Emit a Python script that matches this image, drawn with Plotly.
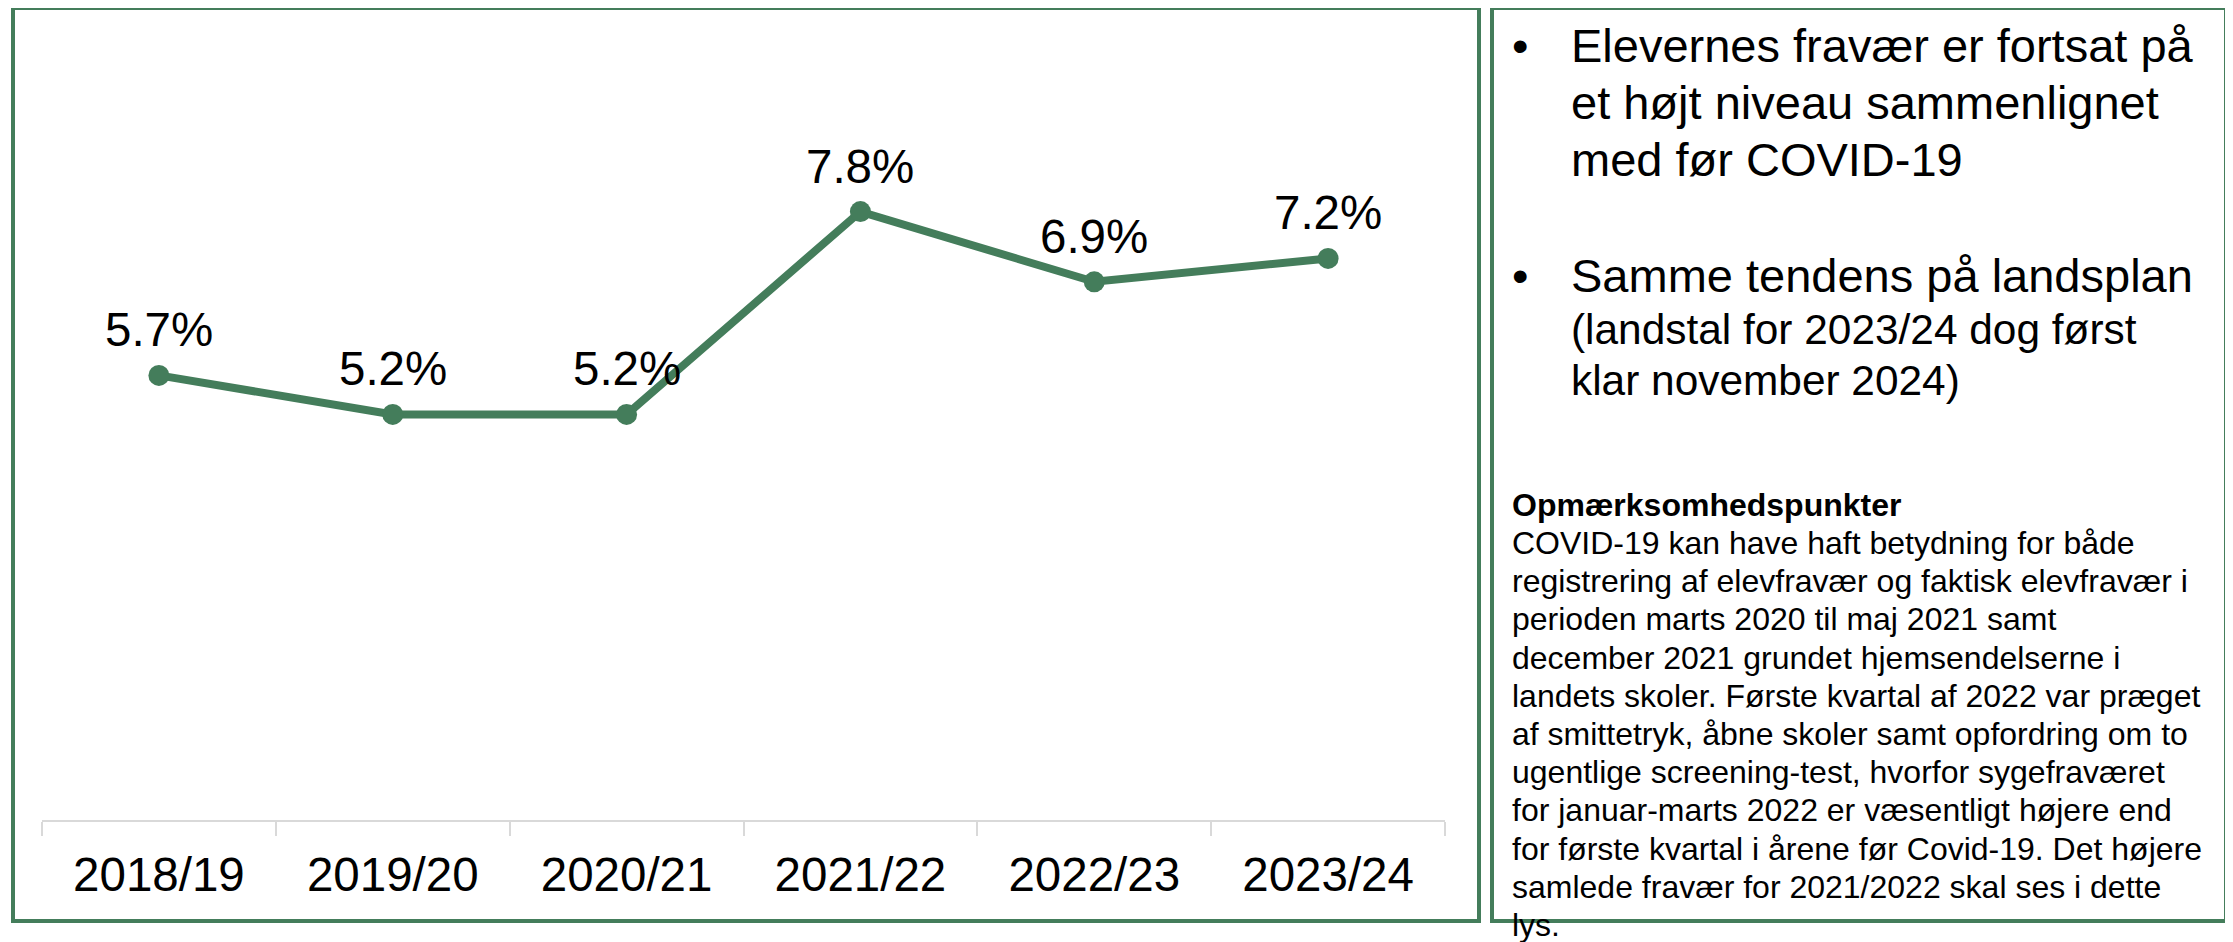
import plotly.graph_objects as go

# ---- data ----
categories = ["2018/19", "2019/20", "2020/21", "2021/22", "2022/23", "2023/24"]
absence_pct = [5.7, 5.2, 5.2, 7.8, 6.9, 7.2]

bullet_lines = [
    ("•", "Elevernes fravær er fortsat på"),
    ("", "et højt niveau sammenlignet"),
    ("", "med før COVID-19"),
    ("•", "Samme tendens på landsplan"),
    ("", "(landstal for 2023/24 dog først"),
    ("", "klar november 2024)"),
]
note_title = "Opmærksomhedspunkter"
note_lines = [
    "COVID-19 kan have haft betydning for både",
    "registrering af elevfravær og faktisk elevfravær i",
    "perioden marts 2020 til maj 2021 samt",
    "december 2021 grundet hjemsendelserne i",
    "landets skoler. Første kvartal af 2022 var præget",
    "af smittetryk, åbne skoler samt opfordring om to",
    "ugentlige screening-test, hvorfor sygefraværet",
    "for januar-marts 2022 er væsentligt højere end",
    "for første kvartal i årene før Covid-19. Det højere",
    "samlede fravær for 2021/2022 skal ses i dette",
    "lys.",
]

# ---- styling ----
W, H = 2233, 942
OFF = 8  # default page body margin
GREEN = "#447D5B"
FONT = "Liberation Sans, Arial, sans-serif"
BIG = 47.5


def fx(px):
    return (px - OFF) / W


def fy(py):
    return 1 - (py - OFF) / H


fig = go.Figure()
fig.add_trace(go.Scatter(
    x=categories, y=absence_pct, mode="lines+markers",
    line=dict(color=GREEN, width=8),
    marker=dict(color=GREEN, size=21),
    hoverinfo="skip", showlegend=False,
))

annotations = []
# data labels
for c, v in zip(categories, absence_pct):
    annotations.append(dict(
        x=c, y=v, xref="x", yref="y", text=f"{v:.1f}%", showarrow=False,
        xanchor="center", yanchor="bottom", yshift=17,
        font=dict(family=FONT, size=BIG, color="black"),
    ))

# right panel bullet text
bullet_base = [63, 120, 177, 293, 345, 396]
bullet_size = [47, 47, 47, 47, 42.4, 42.4]
for (b, t), base, fs in zip(bullet_lines, bullet_base, bullet_size):
    if b:
        annotations.append(dict(
            x=fx(1510), y=fy(base + 0.212 * fs + 1), xref="paper", yref="paper",
            text=b, showarrow=False, xanchor="left", yanchor="bottom",
            font=dict(family=FONT, size=fs, color="black"),
        ))
    annotations.append(dict(
        x=fx(1569), y=fy(base + 0.212 * fs + 1), xref="paper", yref="paper",
        text=t, showarrow=False, xanchor="left", yanchor="bottom",
        font=dict(family=FONT, size=fs, color="black"),
    ))

NOTE_FS = 32
all_notes = [f"<b>{note_title}</b>"] + note_lines
for i, t in enumerate(all_notes):
    base = 517 + 38.2 * i
    annotations.append(dict(
        x=fx(1510), y=fy(base + 0.212 * NOTE_FS + 1), xref="paper", yref="paper",
        text=t, showarrow=False, xanchor="left", yanchor="bottom",
        font=dict(family=FONT, size=NOTE_FS, color="black"),
    ))

shapes = [
    dict(type="rect", xref="paper", yref="paper",
         x0=fx(13), x1=fx(1479), y0=fy(921), y1=fy(8),
         line=dict(color=GREEN, width=4), fillcolor="rgba(0,0,0,0)", layer="below"),
    dict(type="rect", xref="paper", yref="paper",
         x0=fx(1492), x1=fx(2226), y0=fy(921), y1=fy(8),
         line=dict(color=GREEN, width=4), fillcolor="rgba(0,0,0,0)", layer="below"),
]

fig.update_layout(
    width=W, height=H,
    margin=dict(l=0, r=0, t=0, b=0),
    paper_bgcolor="white", plot_bgcolor="white",
    font=dict(family=FONT, color="black"),
    showlegend=False,
    annotations=annotations,
    shapes=shapes,
    xaxis=dict(
        type="category", range=[-0.5, 5.5],
        domain=[fx(42), fx(1445)],
        showgrid=False, zeroline=False,
        showline=True, linecolor="#D9D9D9", linewidth=2,
        ticks="outside", tickson="boundaries", ticklen=14,
        tickcolor="#D9D9D9", tickwidth=2,
        tickfont=dict(family=FONT, size=BIG, color="black"),
        ticklabelstandoff=12,
        fixedrange=True,
    ),
    yaxis=dict(
        range=[0, 9], domain=[fy(820), fy(118)],
        showgrid=False, zeroline=False, showline=False,
        showticklabels=False, ticks="", fixedrange=True,
    ),
)

fig.write_html("out.html")
